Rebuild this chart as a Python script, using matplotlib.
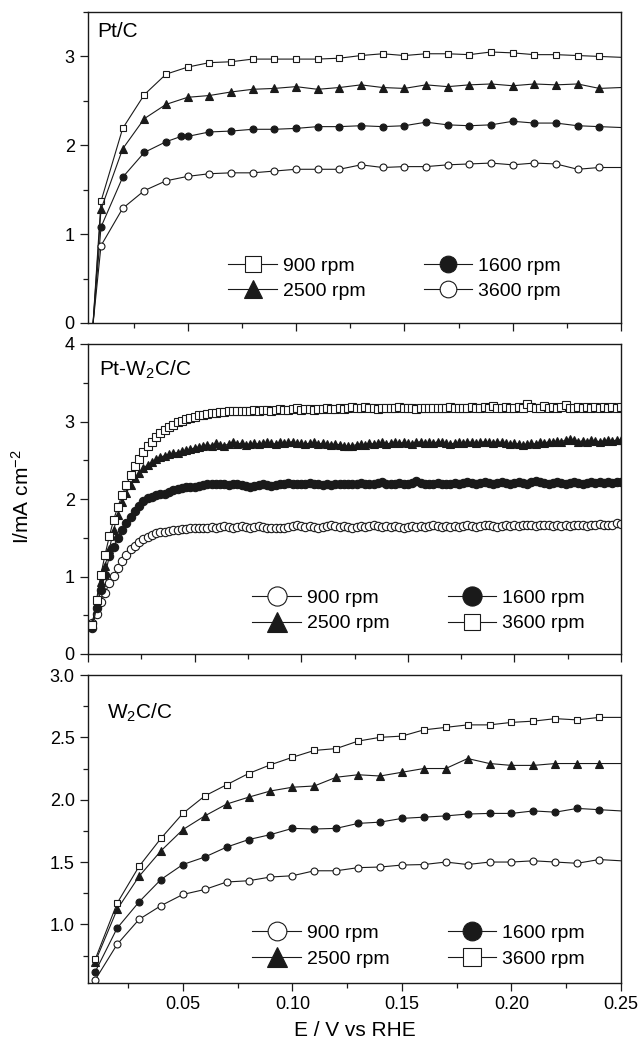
import matplotlib
matplotlib.use("Agg")
import matplotlib.pyplot as plt
from matplotlib.ticker import MultipleLocator

plt.rcParams["font.family"] = ["Liberation Sans", "DejaVu Sans"]
plt.rcParams["mathtext.fontset"] = "custom"
plt.rcParams["mathtext.rm"] = "Liberation Sans"
plt.rcParams["mathtext.it"] = "Liberation Sans:italic"

# ── Pt/C (top panel) ─────────────────────────────────────────────────────────
E_top = [0.005, 0.01, 0.02, 0.03, 0.04, 0.05, 0.06, 0.07, 0.08, 0.09, 0.10,
         0.11, 0.12, 0.13, 0.14, 0.15, 0.16, 0.17, 0.18, 0.19, 0.20,
         0.21, 0.22, 0.23, 0.24, 0.25]
E_top_1600 = [0.005, 0.01, 0.02, 0.03, 0.04, 0.047, 0.05, 0.06, 0.07, 0.08, 0.09, 0.10,
              0.11, 0.12, 0.13, 0.14, 0.15, 0.16, 0.17, 0.18, 0.19, 0.20,
              0.21, 0.22, 0.23, 0.24, 0.25]
top_900 = [-0.50, 1.37, 2.19, 2.57, 2.80, 2.88, 2.93, 2.94, 2.97, 2.97, 2.97,
           2.97, 2.98, 3.01, 3.03, 3.01, 3.03, 3.03, 3.02, 3.05, 3.04,
           3.02, 3.02, 3.01, 3.00, 2.99]
top_2500 = [-0.48, 1.28, 1.96, 2.30, 2.46, 2.54, 2.56, 2.60, 2.63, 2.64, 2.66,
            2.63, 2.65, 2.68, 2.65, 2.64, 2.68, 2.66, 2.68, 2.69, 2.67,
            2.69, 2.68, 2.69, 2.64, 2.65]
top_1600 = [-0.40, 1.08, 1.64, 1.92, 2.04, 2.10, 2.10, 2.15, 2.16, 2.18, 2.18, 2.19,
            2.21, 2.21, 2.22, 2.21, 2.22, 2.26, 2.23, 2.22, 2.23, 2.27,
            2.25, 2.25, 2.22, 2.21, 2.20]
top_3600 = [-0.33, 0.87, 1.29, 1.49, 1.60, 1.65, 1.68, 1.69, 1.69, 1.71, 1.73,
            1.73, 1.73, 1.78, 1.75, 1.76, 1.76, 1.78, 1.79, 1.80, 1.78,
            1.80, 1.79, 1.73, 1.75, 1.75]

# ── Pt-W2C/C (middle panel) ──────────────────────────────────────────────────
E_mid = [0.002, 0.004, 0.006, 0.008, 0.010, 0.012, 0.014, 0.016, 0.018, 0.020,
         0.022, 0.024, 0.026, 0.028, 0.030, 0.032, 0.034, 0.036, 0.038, 0.040,
         0.042, 0.044, 0.046, 0.048, 0.050, 0.052, 0.054, 0.056, 0.058, 0.060,
         0.062, 0.064, 0.066, 0.068, 0.070, 0.072, 0.074, 0.076, 0.078, 0.080,
         0.082, 0.084, 0.086, 0.088, 0.090, 0.092, 0.094, 0.096, 0.098, 0.100,
         0.102, 0.104, 0.106, 0.108, 0.110, 0.112, 0.114, 0.116, 0.118, 0.120,
         0.122, 0.124, 0.126, 0.128, 0.130, 0.132, 0.134, 0.136, 0.138, 0.140,
         0.142, 0.144, 0.146, 0.148, 0.150, 0.152, 0.154, 0.156, 0.158, 0.160,
         0.162, 0.164, 0.166, 0.168, 0.170, 0.172, 0.174, 0.176, 0.178, 0.180,
         0.182, 0.184, 0.186, 0.188, 0.190, 0.192, 0.194, 0.196, 0.198, 0.200,
         0.202, 0.204, 0.206, 0.208, 0.210, 0.212, 0.214, 0.216, 0.218, 0.220,
         0.222, 0.224, 0.226, 0.228, 0.230, 0.232, 0.234, 0.236, 0.238, 0.240,
         0.242, 0.244, 0.246, 0.248, 0.250]
mid_900 = [0.40, 0.51, 0.67, 0.79, 0.91, 1.01, 1.11, 1.20, 1.28, 1.35,
           1.40, 1.45, 1.49, 1.51, 1.54, 1.56, 1.57, 1.58, 1.59, 1.60,
           1.60, 1.61, 1.61, 1.62, 1.62, 1.62, 1.63, 1.63, 1.64, 1.63,
           1.64, 1.65, 1.64, 1.63, 1.64, 1.65, 1.64, 1.63, 1.64, 1.65,
           1.64, 1.63, 1.62, 1.63, 1.62, 1.63, 1.64, 1.65, 1.66, 1.65,
           1.64, 1.65, 1.64, 1.63, 1.64, 1.65, 1.66, 1.65, 1.64, 1.65,
           1.64, 1.63, 1.64, 1.65, 1.64, 1.65, 1.66, 1.65, 1.64, 1.65,
           1.64, 1.65, 1.64, 1.63, 1.64, 1.65, 1.64, 1.65, 1.64, 1.65,
           1.66, 1.65, 1.64, 1.65, 1.64, 1.65, 1.64, 1.65, 1.66, 1.65,
           1.64, 1.65, 1.66, 1.67, 1.65, 1.64, 1.65, 1.66, 1.65, 1.66,
           1.65, 1.66, 1.67, 1.66, 1.65, 1.66, 1.67, 1.66, 1.65, 1.66,
           1.65, 1.66, 1.65, 1.66, 1.67, 1.66, 1.65, 1.66, 1.67, 1.68,
           1.67, 1.66, 1.67, 1.69, 1.68]
mid_1600 = [0.33, 0.60, 0.82, 1.02, 1.26, 1.38, 1.50, 1.60, 1.69, 1.77,
            1.85, 1.91, 1.97, 2.01, 2.03, 2.05, 2.06, 2.07, 2.09, 2.11,
            2.13, 2.14, 2.15, 2.15, 2.16, 2.17, 2.18, 2.19, 2.19, 2.20,
            2.20, 2.19, 2.18, 2.19, 2.20, 2.18, 2.17, 2.16, 2.17, 2.18,
            2.19, 2.18, 2.17, 2.18, 2.19, 2.20, 2.21, 2.20, 2.19, 2.19,
            2.20, 2.21, 2.20, 2.19, 2.18, 2.19, 2.18, 2.19, 2.20, 2.19,
            2.20, 2.19, 2.20, 2.21, 2.20, 2.19, 2.20, 2.21, 2.22, 2.20,
            2.19, 2.20, 2.21, 2.20, 2.20, 2.21, 2.23, 2.21, 2.20, 2.19,
            2.20, 2.21, 2.20, 2.19, 2.20, 2.21, 2.20, 2.21, 2.22, 2.21,
            2.20, 2.21, 2.22, 2.21, 2.20, 2.21, 2.22, 2.21, 2.20, 2.21,
            2.22, 2.21, 2.20, 2.22, 2.23, 2.22, 2.21, 2.19, 2.21, 2.22,
            2.21, 2.20, 2.21, 2.22, 2.21, 2.20, 2.21, 2.22, 2.21, 2.22,
            2.21, 2.22, 2.21, 2.22, 2.22]
mid_2500 = [0.40, 0.66, 0.93, 1.14, 1.35, 1.60, 1.80, 1.96, 2.08, 2.18,
            2.27, 2.34, 2.40, 2.44, 2.48, 2.51, 2.54, 2.56, 2.58, 2.59,
            2.60, 2.62, 2.63, 2.64, 2.66, 2.67, 2.68, 2.70, 2.69, 2.72,
            2.70, 2.69, 2.71, 2.74, 2.71, 2.72, 2.70, 2.71, 2.72, 2.71,
            2.72, 2.73, 2.72, 2.71, 2.73, 2.72, 2.73, 2.74, 2.72, 2.72,
            2.71, 2.72, 2.73, 2.71, 2.72, 2.71, 2.70, 2.71, 2.70, 2.69,
            2.68, 2.69, 2.70, 2.71, 2.70, 2.72, 2.71, 2.72, 2.73, 2.71,
            2.72, 2.74, 2.72, 2.73, 2.72, 2.71, 2.73, 2.74, 2.72, 2.73,
            2.72, 2.74, 2.73, 2.72, 2.71, 2.72, 2.73, 2.72, 2.74, 2.73,
            2.72, 2.73, 2.74, 2.73, 2.72, 2.74, 2.73, 2.72, 2.71, 2.72,
            2.71, 2.70, 2.71, 2.72, 2.71, 2.73, 2.72, 2.74, 2.73, 2.75,
            2.74, 2.76, 2.77, 2.76, 2.74, 2.75, 2.74, 2.76, 2.75, 2.74,
            2.75, 2.76, 2.75, 2.76, 2.76]
mid_3600 = [0.37, 0.70, 1.02, 1.28, 1.52, 1.73, 1.90, 2.05, 2.18, 2.31,
            2.42, 2.52, 2.61, 2.68, 2.74, 2.80, 2.85, 2.89, 2.93, 2.96,
            2.99, 3.01, 3.03, 3.05, 3.06, 3.08, 3.09, 3.10, 3.11, 3.11,
            3.12, 3.12, 3.13, 3.13, 3.14, 3.13, 3.14, 3.14, 3.15, 3.14,
            3.15, 3.15, 3.14, 3.15, 3.16, 3.15, 3.15, 3.16, 3.17, 3.15,
            3.16, 3.16, 3.15, 3.16, 3.16, 3.17, 3.16, 3.16, 3.17, 3.16,
            3.17, 3.19, 3.17, 3.18, 3.19, 3.17, 3.17, 3.16, 3.17, 3.17,
            3.18, 3.17, 3.19, 3.18, 3.17, 3.17, 3.16, 3.17, 3.17, 3.18,
            3.17, 3.17, 3.18, 3.17, 3.19, 3.18, 3.18, 3.17, 3.18, 3.19,
            3.18, 3.18, 3.19, 3.18, 3.20, 3.18, 3.18, 3.19, 3.17, 3.18,
            3.19, 3.18, 3.22, 3.19, 3.18, 3.18, 3.20, 3.18, 3.19, 3.18,
            3.19, 3.21, 3.18, 3.18, 3.19, 3.18, 3.19, 3.18, 3.19, 3.18,
            3.19, 3.18, 3.19, 3.18, 3.19]

# ── W2C/C (bottom panel) ─────────────────────────────────────────────────────
E_bot = [0.01, 0.02, 0.03, 0.04, 0.05, 0.06, 0.07, 0.08, 0.09, 0.10,
         0.11, 0.12, 0.13, 0.14, 0.15, 0.16, 0.17, 0.18, 0.19, 0.20,
         0.21, 0.22, 0.23, 0.24, 0.25]
bot_900 = [0.556, 0.84, 1.04, 1.15, 1.24, 1.28, 1.34, 1.35, 1.38, 1.39,
           1.43, 1.43, 1.455, 1.46, 1.476, 1.48, 1.50, 1.48, 1.50, 1.50,
           1.51, 1.50, 1.49, 1.52, 1.51]
bot_1600 = [0.62, 0.97, 1.18, 1.36, 1.48, 1.54, 1.62, 1.68, 1.72, 1.77,
            1.765, 1.77, 1.81, 1.82, 1.85, 1.86, 1.87, 1.885, 1.89, 1.89,
            1.91, 1.90, 1.93, 1.92, 1.91]
bot_2500 = [0.70, 1.12, 1.385, 1.59, 1.76, 1.87, 1.965, 2.02, 2.07, 2.10,
            2.11, 2.18, 2.20, 2.19, 2.22, 2.25, 2.25, 2.33, 2.29, 2.275,
            2.275, 2.29, 2.29, 2.29, 2.29]
bot_3600 = [0.72, 1.17, 1.465, 1.69, 1.89, 2.03, 2.12, 2.21, 2.28, 2.34,
            2.395, 2.41, 2.47, 2.50, 2.51, 2.56, 2.58, 2.60, 2.60, 2.62,
            2.63, 2.65, 2.64, 2.66, 2.66]

labels = ["900 rpm", "2500 rpm", "1600 rpm", "3600 rpm"]

LC = "#1a1a1a"
OPEN = dict(mfc="white", mec=LC)
FILL = dict(mfc=LC, mec=LC)

W, H = 638, 1046
fig = plt.figure(figsize=(W / 100, H / 100), dpi=100)

def px_axes(x0, x1, y0, y1):
    return fig.add_axes([x0 / W, 1 - y1 / H, (x1 - x0) / W, (y1 - y0) / H])

ax_top = px_axes(88, 621, 12, 323)
ax_mid = px_axes(88, 621, 344, 654)
ax_bot = px_axes(88, 621, 675, 983)

def curve(ax, x, y, marker, style, label, ms=5, every=None):
    ax.plot(x, y, color=LC, lw=0.8, marker=marker, ms=ms, mew=0.8,
            markevery=every, label=label, **style)

# top
skip_last = slice(1, -1)
curve(ax_top, E_top, top_900, "s", OPEN, labels[0], every=skip_last)
curve(ax_top, E_top, top_2500, "^", FILL, labels[1], ms=5.5, every=skip_last)
curve(ax_top, E_top_1600, top_1600, "o", FILL, labels[2], every=skip_last)
curve(ax_top, E_top, top_3600, "o", OPEN, labels[3], every=skip_last)

# middle: plotting order so the legend reads 900, 2500 | 1600, 3600
curve(ax_mid, E_mid, mid_900, "o", OPEN, labels[0], ms=6)
curve(ax_mid, E_mid, mid_2500, "^", FILL, labels[1], ms=6)
curve(ax_mid, E_mid, mid_1600, "o", FILL, labels[2], ms=6)
curve(ax_mid, E_mid, mid_3600, "s", OPEN, labels[3], ms=5.2)

# bottom
curve(ax_bot, E_bot, bot_900, "o", OPEN, labels[0], every=slice(0, -1))
curve(ax_bot, E_bot, bot_2500, "^", FILL, labels[1], ms=5.5, every=slice(0, -1))
curve(ax_bot, E_bot, bot_1600, "o", FILL, labels[2], every=slice(0, -1))
curve(ax_bot, E_bot, bot_3600, "s", OPEN, labels[3], every=slice(0, -1))

ax_top.set_xlim(0.004, 0.25)
ax_mid.set_xlim(0.0, 0.25)
ax_bot.set_xlim(0.0067, 0.25)
ax_top.set_ylim(0, 3.5)
ax_mid.set_ylim(0, 4)
ax_bot.set_ylim(0.53, 3.0)

for ax in (ax_top, ax_mid, ax_bot):
    ax.xaxis.set_major_locator(MultipleLocator(0.05))
    ax.xaxis.set_minor_locator(MultipleLocator(0.025))
    ax.tick_params(which="both", direction="out", top=False, right=False,
                   labelsize=13, width=0.9, color=LC)
    ax.tick_params(which="major", length=6)
    ax.tick_params(which="minor", length=3.5)
    for s in ax.spines.values():
        s.set_linewidth(1.0)
        s.set_color(LC)

ax_top.yaxis.set_major_locator(MultipleLocator(1))
ax_top.yaxis.set_minor_locator(MultipleLocator(0.5))
ax_mid.yaxis.set_major_locator(MultipleLocator(1))
ax_mid.yaxis.set_minor_locator(MultipleLocator(0.5))
ax_bot.yaxis.set_major_locator(MultipleLocator(0.5))
ax_bot.yaxis.set_minor_locator(MultipleLocator(0.25))
ax_bot.yaxis.set_major_formatter(plt.FormatStrFormatter("%.1f"))
ax_bot.xaxis.set_major_formatter(plt.FormatStrFormatter("%.2f"))
ax_top.tick_params(labelbottom=False)
ax_mid.tick_params(labelbottom=False)

leg_kw = dict(ncol=2, frameon=False, fontsize=14,
              handlelength=2.5, handletextpad=0.3, columnspacing=3.0,
              labelspacing=0.4, loc="center")
ax_top.legend(bbox_to_anchor=(0.575, 0.143), markerscale=2.4, **leg_kw)
ax_mid.legend(bbox_to_anchor=(0.62, 0.139), markerscale=2.3, **leg_kw)
ax_bot.legend(bbox_to_anchor=(0.62, 0.12), markerscale=2.7, **leg_kw)

ax_top.text(0.017, 0.921, "Pt/C", transform=ax_top.transAxes, fontsize=15,
            va="baseline")
ax_mid.text(0.021, 0.898, "Pt-W$_2$C/C", transform=ax_mid.transAxes,
            fontsize=15, va="baseline")
ax_bot.text(0.036, 0.859, "W$_2$C/C", transform=ax_bot.transAxes,
            fontsize=15, va="baseline")

fig.text(22 / W, 1 - 497 / H, "I/mA cm$^{-2}$", rotation=90, fontsize=15,
         ha="center", va="center")
fig.text(355 / W, 1 - 1030 / H, "E / V vs RHE", fontsize=15,
         ha="center", va="center")

fig.savefig("out.png", dpi=100)
